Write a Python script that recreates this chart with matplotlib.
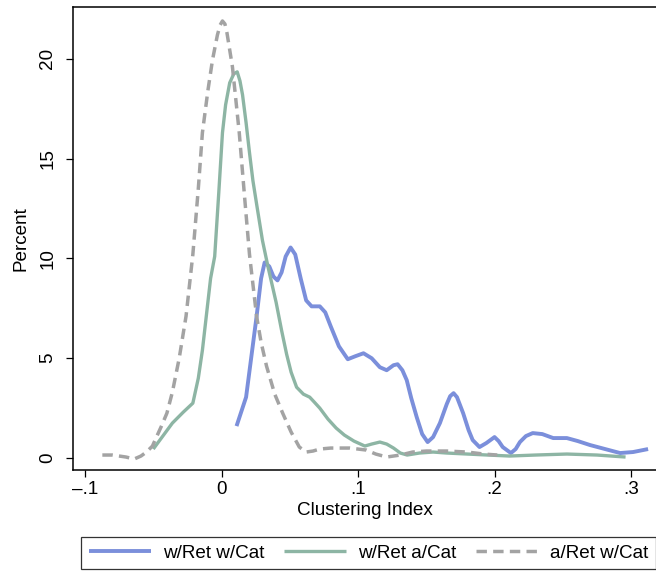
import numpy as np
import matplotlib
matplotlib.use('Agg')
import matplotlib.pyplot as plt

plt.rcParams['font.family'] = ['Liberation Sans', 'DejaVu Sans']

# --- Density curves (Clustering Index vs Percent) ---
ret_cat_x = [0.011, 0.018, 0.0257, 0.029, 0.0316, 0.035, 0.038, 0.041, 0.044, 0.047,
             0.0506, 0.054, 0.058, 0.062, 0.066, 0.072, 0.076, 0.080, 0.086, 0.0925,
             0.098, 0.104, 0.110, 0.116, 0.121, 0.126, 0.129, 0.1325, 0.1357, 0.139,
             0.143, 0.147, 0.151, 0.155, 0.160, 0.165, 0.1675, 0.170, 0.1725, 0.177, 0.181,
             0.184, 0.189, 0.194, 0.200, 0.203, 0.206, 0.212, 0.2155, 0.2186, 0.223,
             0.228, 0.235, 0.243, 0.253, 0.261, 0.270, 0.281, 0.292, 0.3015, 0.3125]
ret_cat_y = [1.6, 3.05, 7.1, 9.0, 9.8, 9.6, 9.1, 8.9, 9.3, 10.1,
             10.55, 10.2, 9.0, 7.9, 7.6, 7.6, 7.3, 6.6, 5.6, 4.95,
             5.1, 5.25, 5.0, 4.55, 4.4, 4.65, 4.7, 4.4, 3.9, 3.0,
             2.05, 1.2, 0.8, 1.05, 1.75, 2.7, 3.1, 3.25, 3.05, 2.25, 1.4,
             0.9, 0.55, 0.75, 1.05, 0.85, 0.55, 0.25, 0.45, 0.8, 1.1,
             1.25, 1.2, 1.0, 1.0, 0.85, 0.65, 0.45, 0.25, 0.3, 0.45]

ret_nocat_x = [-0.050, -0.043, -0.036, -0.028, -0.021, -0.017, -0.014, -0.011, -0.008, -0.005,
               -0.002, 0.0007, 0.003, 0.006, 0.009, 0.0115, 0.0135, 0.0154, 0.018, 0.0205,
               0.023, 0.026, 0.030, 0.034, 0.040, 0.044, 0.0477, 0.051, 0.055, 0.060,
               0.0646, 0.068, 0.072, 0.078, 0.084, 0.090, 0.097, 0.105, 0.110, 0.116,
               0.121, 0.126, 0.131, 0.136, 0.145, 0.155, 0.165, 0.180, 0.195, 0.211,
               0.230, 0.253, 0.275, 0.296]
ret_nocat_y = [0.45, 1.1, 1.75, 2.3, 2.75, 4.0, 5.4, 7.2, 9.0, 10.1,
               13.3, 16.3, 17.7, 18.8, 19.25, 19.35, 18.9, 18.2, 16.8, 15.3,
               13.9, 12.6, 10.9, 9.6, 7.8, 6.4, 5.2, 4.3, 3.55, 3.2,
               3.05, 2.8, 2.5, 1.95, 1.5, 1.15, 0.85, 0.6, 0.7, 0.8,
               0.7, 0.5, 0.25, 0.15, 0.25, 0.3, 0.25, 0.2, 0.15, 0.1,
               0.15, 0.2, 0.15, 0.05]

noret_cat_x = [-0.0873, -0.080, -0.070, -0.064, -0.059, -0.055, -0.0506, -0.048, -0.044, -0.040,
               -0.036, -0.031, -0.026, -0.021, -0.017, -0.014, -0.010, -0.0066, -0.003, -0.001,
               0.0007, 0.0025, 0.004, 0.008, 0.013, 0.017, 0.0205, 0.0257, 0.029, 0.033,
               0.039, 0.0448, 0.051, 0.057, 0.062, 0.067, 0.072, 0.080, 0.088, 0.094,
               0.100, 0.106, 0.113, 0.121, 0.131, 0.140, 0.150, 0.165, 0.180, 0.192, 0.202]
noret_cat_y = [0.15, 0.15, 0.05, -0.05, 0.1, 0.3, 0.6, 1.0, 1.6, 2.25,
               3.3, 5.0, 7.1, 10.2, 13.5, 16.3, 18.4, 19.95, 21.2, 21.7,
               21.9, 21.75, 21.3, 19.6, 16.3, 13.0, 10.2, 7.1, 5.8, 4.6,
               3.2, 2.25, 1.3, 0.55, 0.3, 0.35, 0.45, 0.5, 0.5, 0.5,
               0.45, 0.4, 0.2, 0.05, 0.15, 0.3, 0.35, 0.35, 0.3, 0.2, 0.15]

series_labels = ['w/Ret w/Cat', 'w/Ret a/Cat', 'a/Ret w/Cat']
x_ticks = [-0.1, 0, 0.1, 0.2, 0.3]
x_tick_labels = ['\u2013.1', '0', '.1', '.2', '.3']
y_ticks = [0, 5, 10, 15, 20]

W, H = 656, 571
FS = 13.6
fig = plt.figure(figsize=(W / 100, H / 100), dpi=100)
ax = fig.add_axes([73 / W, 1 - 470 / H, (W - 73) / W, (470 - 7) / H])

ax.plot(ret_cat_x, ret_cat_y, color='#7b8fdb', lw=2.8, label=series_labels[0],
        solid_capstyle='butt', solid_joinstyle='round')
ax.plot(ret_nocat_x, ret_nocat_y, color='#8db5a4', lw=2.4, label=series_labels[1],
        solid_capstyle='butt', solid_joinstyle='round')
ax.plot(noret_cat_x, noret_cat_y, color='#a3a3a3', lw=2.5, label=series_labels[2],
        dashes=(3.0, 1.8))

ax.set_xlim(-0.1088, 0.3183)
ax.set_ylim(-0.6, 22.6)

ax.set_xticks(x_ticks)
ax.set_xticklabels(x_tick_labels)
ax.set_yticks(y_ticks)
ax.set_yticklabels([str(v) for v in y_ticks], rotation=90, va='center')
ax.tick_params(axis='both', direction='out', length=5, width=0.9, labelsize=FS)
ax.tick_params(axis='y', pad=7)
ax.tick_params(axis='x', pad=3)

ax.spines['right'].set_visible(False)
for side in ['left', 'bottom', 'top']:
    ax.spines[side].set_linewidth(1.1)

ax.set_xlabel('Clustering Index', fontsize=FS, labelpad=3)
ax.set_ylabel('Percent', fontsize=FS, labelpad=7)

leg = fig.legend(loc='upper left', bbox_to_anchor=(81 / W, 1 - 537 / H), ncol=3,
                 fontsize=FS, handlelength=3.3, handletextpad=0.62, columnspacing=1.05,
                 borderpad=0.4, borderaxespad=0, frameon=True, fancybox=False)
leg.get_frame().set_edgecolor('black')
leg.get_frame().set_linewidth(0.9)

fig.savefig('out.png', dpi=100)
